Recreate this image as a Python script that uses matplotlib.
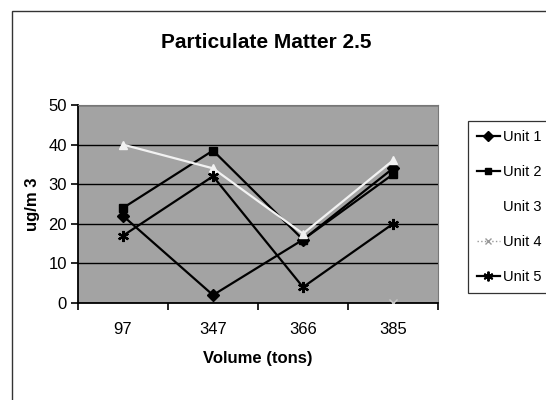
import numpy as np
import matplotlib
matplotlib.use("Agg")
import matplotlib.pyplot as plt
from matplotlib.lines import Line2D
from matplotlib.patches import Rectangle

plt.rcParams['font.family'] = ['Liberation Sans', 'DejaVu Sans']

volumes = ["97", "347", "366", "385"]
unit1 = [22, 2, 16, 34]
unit2 = [24, 38.5, 16, 32.5]
unit3 = [40, 34, 17.5, 36]
unit4 = [np.nan, np.nan, np.nan, 0]
unit5 = [17, 32, 4, 20]

fig = plt.figure(figsize=(5.46, 4.0), dpi=100)

# outer chart frame (runs off the right and bottom edges)
fig.patches.append(Rectangle((12 / 546, -0.1), 1.0, (400 - 11) / 400 + 0.1,
                             transform=fig.transFigure, fill=False,
                             edgecolor='#333333', linewidth=1.0))

ax = fig.add_axes([78 / 546, 97 / 400, 360 / 546, 198 / 400])
ax.set_facecolor('#a3a3a3')

x = np.arange(len(volumes))
ax.plot(x, unit1, color='black', lw=1.6, marker='D', ms=6, label='Unit 1', zorder=3)
ax.plot(x, unit2, color='black', lw=1.6, marker='s', ms=6, label='Unit 2', zorder=3)
ax.plot(x, unit3, color='#f2f2f2', lw=1.6, marker='^', ms=6, label='Unit 3', zorder=3)
ax.plot(x, unit4, color='#c8c8c8', lw=1.0, marker='x', ms=6, label='Unit 4', zorder=3)
ax.plot(x, unit5, color='black', lw=1.6, marker=(6, 2, 0), ms=8, mew=1.6,
        label='Unit 5', zorder=3)

ax.set_xlim(-0.5, len(volumes) - 0.5)
ax.set_ylim(0, 50)
ax.set_yticks(range(0, 51, 10))
ax.yaxis.grid(True, color='black', lw=1.0)
ax.set_axisbelow(True)

ax.set_xticks(x)
ax.set_xticklabels(volumes)
ax.tick_params(axis='x', length=0, pad=14, labelsize=12)
ax.set_xticks(np.arange(-0.5, len(volumes)), minor=True)
ax.tick_params(axis='x', which='minor', length=5, width=1.2, direction='out')
ax.tick_params(axis='y', length=5, width=1.2, direction='out', labelsize=12, pad=3)

for side in ['top', 'right']:
    ax.spines[side].set_color('#777777')
    ax.spines[side].set_linewidth(0.8)
for side in ['left', 'bottom']:
    ax.spines[side].set_color('black')
    ax.spines[side].set_linewidth(1.3)

ax.set_xlabel('Volume (tons)', fontsize=12, fontweight='bold', labelpad=10)
ax.set_ylabel('ug/m 3', fontsize=12, fontweight='bold', labelpad=6)
fig.text(266 / 546, 1 - 42 / 400, 'Particulate Matter 2.5', ha='center', va='center',
         fontsize=15, fontweight='bold')

handles = [
    Line2D([], [], color='black', lw=1.6, marker='D', ms=5),
    Line2D([], [], color='black', lw=1.6, marker='s', ms=5),
    Line2D([], [], color='white', lw=1.6, marker='^', ms=5),
    Line2D([], [], color='#999999', lw=1.0, ls=':', marker='x', ms=5),
    Line2D([], [], color='black', lw=1.6, marker=(6, 2, 0), ms=7, mew=1.4),
]
leg = fig.legend(handles, ['Unit 1', 'Unit 2', 'Unit 3', 'Unit 4', 'Unit 5'],
                 loc='upper left', bbox_to_anchor=(468 / 546, 1 - 121 / 400),
                 frameon=True, fancybox=False, fontsize=10.5, handlelength=1.6,
                 handletextpad=0.2, labelspacing=1.45, borderpad=0.6,
                 borderaxespad=0)
leg.get_frame().set_edgecolor('black')
leg.get_frame().set_linewidth(0.9)

fig.savefig('out.png', dpi=100)
